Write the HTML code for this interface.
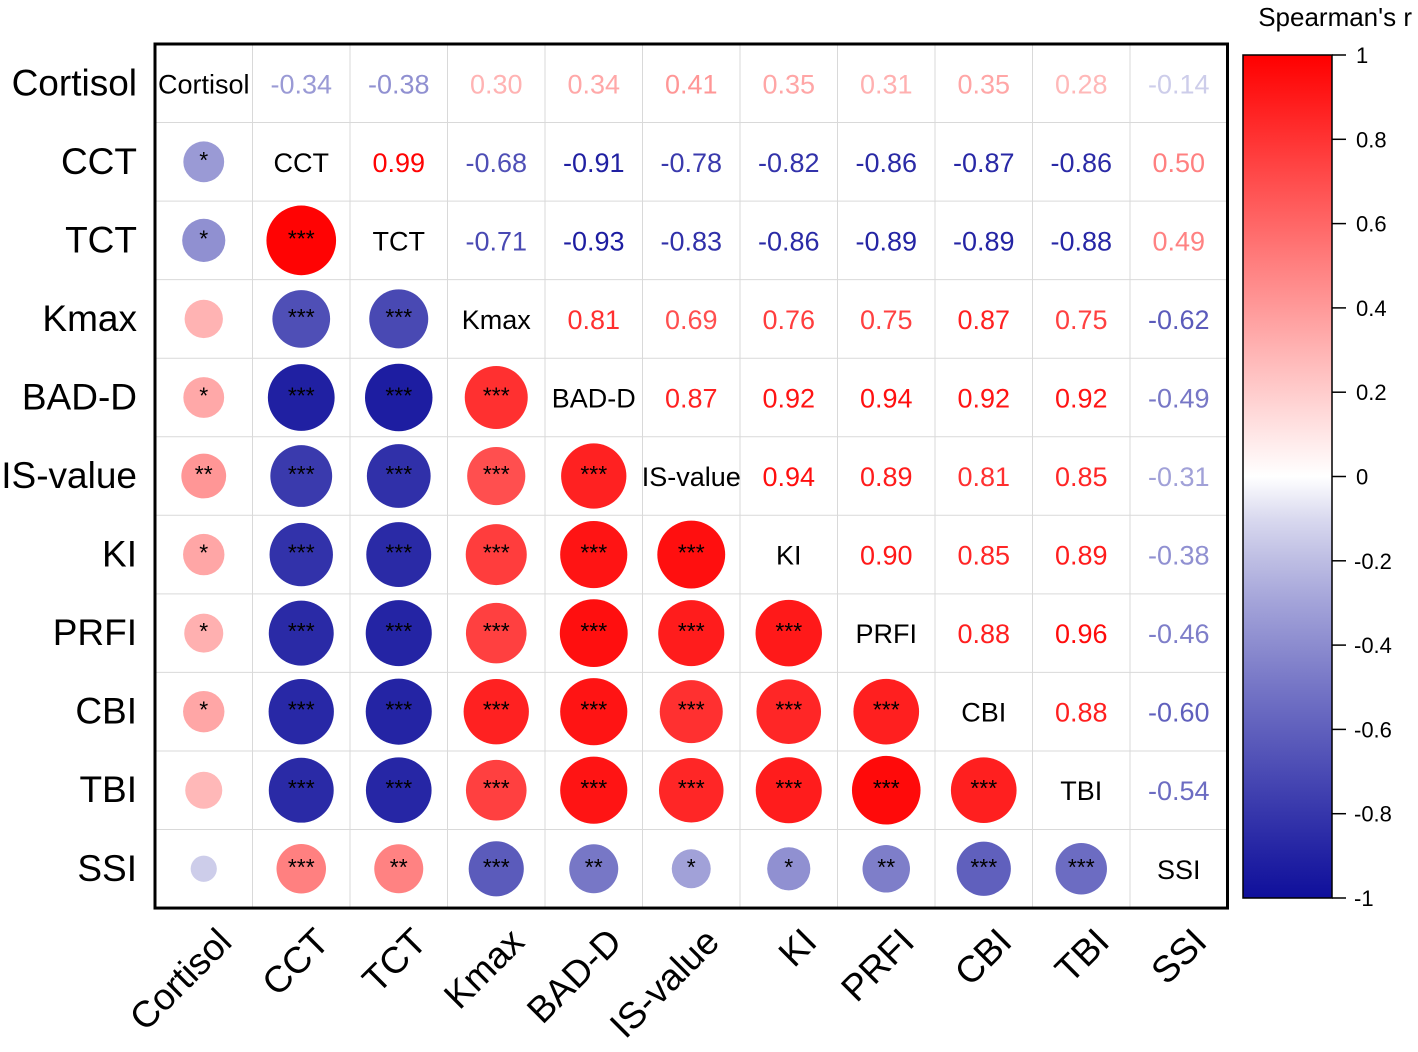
<!DOCTYPE html>
<html><head><meta charset="utf-8"><style>
body{margin:0;background:#fff;}
svg{display:block;font-family:"Liberation Sans",Arial,sans-serif;}
</style></head><body>
<svg id="chart" width="1418" height="1052"></svg>
<script>
const labels=["Cortisol","CCT","TCT","Kmax","BAD-D","IS-value","KI","PRFI","CBI","TBI","SSI"];
const upperValues=[
[null,-0.34,-0.38,0.30,0.34,0.41,0.35,0.31,0.35,0.28,-0.14],
[null,null,0.99,-0.68,-0.91,-0.78,-0.82,-0.86,-0.87,-0.86,0.50],
[null,null,null,-0.71,-0.93,-0.83,-0.86,-0.89,-0.89,-0.88,0.49],
[null,null,null,null,0.81,0.69,0.76,0.75,0.87,0.75,-0.62],
[null,null,null,null,null,0.87,0.92,0.94,0.92,0.92,-0.49],
[null,null,null,null,null,null,0.94,0.89,0.81,0.85,-0.31],
[null,null,null,null,null,null,null,0.90,0.85,0.89,-0.38],
[null,null,null,null,null,null,null,null,0.88,0.96,-0.46],
[null,null,null,null,null,null,null,null,null,0.88,-0.60],
[null,null,null,null,null,null,null,null,null,null,-0.54],
[null,null,null,null,null,null,null,null,null,null,null]];
const stars=[
[],
["*"],
["*","***"],
["","***","***"],
["*","***","***","***"],
["**","***","***","***","***"],
["*","***","***","***","***","***"],
["*","***","***","***","***","***","***"],
["*","***","***","***","***","***","***","***"],
["","***","***","***","***","***","***","***","***"],
["","***","**","***","**","*","*","**","***","***"]];
const cbTicks=[1,0.8,0.6,0.4,0.2,0,-0.2,-0.4,-0.6,-0.8,-1];

const NS="http://www.w3.org/2000/svg";
const svg=document.getElementById('chart');
function mk(tag,attrs,parent){const e=document.createElementNS(NS,tag);for(const k in attrs)e.setAttribute(k,attrs[k]);(parent||svg).appendChild(e);return e;}
const X0=155,Y0=44,CW=97.5,RH=78.55,N=labels.length;
const cx=i=>X0+CW*(i+0.5), cy=i=>Y0+RH*(i+0.5);
function color(v){
  if(v>=0){const g=Math.round(255*(1-v));return `rgb(255,${g},${g})`;}
  const t=Math.pow(-v,0.8);return `rgb(${Math.round(255-240*t)},${Math.round(255-240*t)},${Math.round(255-100*t)})`;
}
function val(r,c){return r<c?upperValues[r][c]:upperValues[c][r];}

for(let i=1;i<N;i++){
  const gx=mk('line',{x1:X0+CW*i,y1:Y0,x2:X0+CW*i,y2:Y0+RH*N,stroke:'#d9d9d9','stroke-width':1});
  
  const gy=mk('line',{x1:X0,y1:Y0+RH*i,x2:X0+CW*N,y2:Y0+RH*i,stroke:'#d9d9d9','stroke-width':1});
  
}
const frame=mk('rect',{x:X0,y:Y0,width:CW*N,height:RH*N,fill:'none',stroke:'#000','stroke-width':3});


for(let r=0;r<N;r++){
  const rl=mk('text',{x:137,y:cy(r)+12,'text-anchor':'end','font-size':37,fill:'#000'});
  rl.textContent=labels[r];
  
  const cl=mk('text',{x:0,y:0,'text-anchor':'end','font-size':37,fill:'#000',transform:`translate(${cx(r)+30},${944}) rotate(-45)`});
  cl.textContent=labels[r];
  
  for(let c=0;c<N;c++){
    if(r===c){
      const d=mk('text',{x:cx(c),y:cy(r)+10,'text-anchor':'middle','font-size':27,fill:'#000'});
      d.textContent=labels[r];
      
    } else if(r<c){
      const v=val(r,c);
      const t=mk('text',{x:cx(c),y:cy(r)+10,'text-anchor':'middle','font-size':27,fill:color(v)});
      t.textContent=v.toFixed(2);
      
    } else {
      const v=val(r,c);
      const circ=mk('circle',{cx:cx(c),cy:cy(r),r:35*Math.sqrt(Math.abs(v)),fill:color(v)});
      
      const s=stars[r][c];
      if(s){const st=mk('text',{x:cx(c),y:cy(r)+6,'text-anchor':'middle','font-size':23,fill:'#000'});
        st.textContent=s;
        }
    }
  }
}
const defs=mk('defs',{});
const lg=mk('linearGradient',{id:'cb',x1:0,y1:0,x2:0,y2:1},defs);
for(let i=0;i<=20;i++){const v=1-i/10;mk('stop',{offset:(i/20),'stop-color':color(v)},lg);}
const CBY0=55,CBY1=898;
const cby=v=>CBY0+(1-v)/2*(CBY1-CBY0);
const cb=mk('rect',{x:1243,y:CBY0,width:89,height:CBY1-CBY0,fill:'url(#cb)',stroke:'#000','stroke-width':1.5});

cbTicks.forEach(v=>{
  const tk=mk('line',{x1:1332,y1:cby(v),x2:1346,y2:cby(v),stroke:'#000','stroke-width':1.5});
  
  const tl=mk('text',{x:v<0?1354:1356,y:cby(v)+8,'font-size':22,fill:'#000'});
  tl.textContent=String(v);
  
});
const ti=mk('text',{x:1412,y:26,'text-anchor':'end','font-size':26,fill:'#000'});
ti.textContent="Spearman's r";

</script>
</body></html>
